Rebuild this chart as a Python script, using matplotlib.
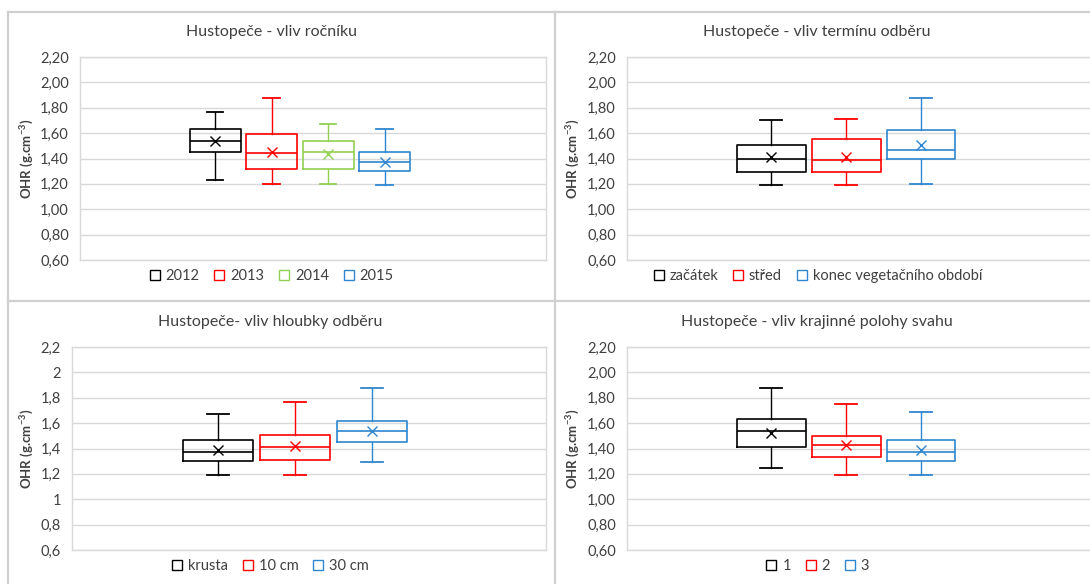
import matplotlib
matplotlib.use("Agg")
import matplotlib.pyplot as plt
from matplotlib.lines import Line2D
from matplotlib.ticker import FixedLocator, FixedFormatter

W, H = 1090, 584
plt.rcParams['font.family'] = ['Lato', 'DejaVu Sans']
plt.rcParams['mathtext.default'] = 'regular'

# ---------------- data ----------------
rocnik_labels = ['2012', '2013', '2014', '2015']
rocnik_whislo = [1.23, 1.20, 1.20, 1.195]
rocnik_q1 = [1.45, 1.32, 1.32, 1.30]
rocnik_med = [1.54, 1.44, 1.45, 1.37]
rocnik_q3 = [1.63, 1.59, 1.54, 1.45]
rocnik_whishi = [1.77, 1.88, 1.67, 1.63]
rocnik_mean = [1.54, 1.455, 1.435, 1.37]

termin_labels = ['začátek', 'střed', 'konec vegetačního období']
termin_whislo = [1.19, 1.19, 1.20]
termin_q1 = [1.29, 1.295, 1.40]
termin_med = [1.40, 1.385, 1.465]
termin_q3 = [1.51, 1.555, 1.625]
termin_whishi = [1.70, 1.71, 1.88]
termin_mean = [1.415, 1.415, 1.505]

hloubka_labels = ['krusta', '10 cm', '30 cm']
hloubka_whislo = [1.195, 1.195, 1.29]
hloubka_q1 = [1.30, 1.31, 1.45]
hloubka_med = [1.37, 1.415, 1.54]
hloubka_q3 = [1.465, 1.51, 1.62]
hloubka_whishi = [1.67, 1.765, 1.88]
hloubka_mean = [1.385, 1.42, 1.535]

poloha_labels = ['1', '2', '3']
poloha_whislo = [1.25, 1.195, 1.195]
poloha_q1 = [1.41, 1.33, 1.30]
poloha_med = [1.54, 1.43, 1.37]
poloha_q3 = [1.63, 1.50, 1.465]
poloha_whishi = [1.88, 1.75, 1.685]
poloha_mean = [1.525, 1.43, 1.385]

yticks = [0.6, 0.8, 1.0, 1.2, 1.4, 1.6, 1.8, 2.0, 2.2]
yticklabels_2dec = ['0,60', '0,80', '1,00', '1,20', '1,40', '1,60', '1,80', '2,00', '2,20']
yticklabels_short = ['0,6', '0,8', '1', '1,2', '1,4', '1,6', '1,8', '2', '2,2']

titles = ['Hustopeče - vliv ročníku', 'Hustopeče - vliv termínu odběru',
          'Hustopeče- vliv hloubky odběru', 'Hustopeče - vliv krajinné polohy svahu']
ylabel = 'OHR (g.cm$^{-3}$)'

# ---------------- style ----------------
BLACK = '#000000'
RED = '#FF0000'
GREEN = '#92D050'
BLUE = '#2E86D0'
GRID = '#D9D9D9'
TXT = '#404040'

fig = plt.figure(figsize=(W / 100, H / 100), dpi=100)
fig.patch.set_facecolor('white')


def fx(x):
    return x / W


def fy(y):
    return 1 - y / H


# panel frames
for (x0, y0, x1, y1) in [(8, 12, 8, H), (8, 12, W, 12), (555, 12, 555, H), (8, 301, W, 301)]:
    fig.add_artist(Line2D([fx(x0), fx(x1)], [fy(y0), fy(y1)], color='#D0D0D0', lw=1.6))


def panel(layout, labels, whislo, q1, med, q3, whishi, mean, colors, title, ticklabels):
    l, t, r, b, c0, sp, wpx, title_x, title_y, leg_y, ylab_x = layout
    ax = fig.add_axes([fx(l), fy(b), fx(r - l), (b - t) / H])
    n = len(labels)
    w = wpx / sp
    for i in range(n):
        st = dict(med=med[i], q1=q1[i], q3=q3[i], whislo=whislo[i], whishi=whishi[i],
                  mean=mean[i], fliers=[], label=labels[i])
        c = colors[i]
        ax.bxp([st], positions=[i], widths=w, capwidths=w * 0.32, showmeans=True,
               showfliers=False,
               boxprops=dict(color=c, lw=1.2),
               medianprops=dict(color=c, lw=1.2),
               whiskerprops=dict(color=c, lw=1.0),
               capprops=dict(color=c, lw=1.3),
               meanprops=dict(marker='x', markeredgecolor=c, markerfacecolor=c,
                              markersize=7, markeredgewidth=1.0))
    ax.set_xlim((l - c0) / sp, (r - c0) / sp)
    ax.set_ylim(0.6, 2.2)
    ax.yaxis.set_major_locator(FixedLocator(yticks))
    ax.yaxis.set_major_formatter(FixedFormatter(ticklabels))
    ax.set_xticks([])
    ax.grid(axis='y', color=GRID, lw=1.0)
    ax.set_axisbelow(True)
    for s in ax.spines.values():
        s.set_color(GRID)
        s.set_linewidth(1.0)
    ax.tick_params(axis='y', length=0, pad=8, labelsize=10.5, labelcolor=TXT)
    fig.text(fx(title_x), fy(title_y), title, ha='center', va='center', fontsize=11.5, color=TXT)
    fig.text(fx(ylab_x), fy((t + b) / 2), ylabel, ha='center', va='center', rotation=90,
             fontsize=9.5, color=TXT, fontweight='bold')
    handles = [Line2D([], [], ls='none', marker='s', markersize=7.5, markerfacecolor='white',
                      markeredgecolor=colors[i], markeredgewidth=1.0) for i in range(n)]
    fig.legend(handles, labels, loc='center', bbox_to_anchor=(fx(title_x), fy(leg_y)),
               ncol=n, frameon=False, fontsize=10.5, handlelength=0.9, handletextpad=0.3,
               columnspacing=0.9, labelcolor=TXT, borderpad=0, borderaxespad=0)
    return ax


# layout: left, top, right, bottom (px), first box center, spacing, box width, title x, title y, legend y, ylabel x
panel((80, 57, 546, 260, 215, 56.5, 51, 271, 32, 276, 27), rocnik_labels, rocnik_whislo, rocnik_q1,
      rocnik_med, rocnik_q3, rocnik_whishi, rocnik_mean, [BLACK, RED, GREEN, BLUE], titles[0],
      yticklabels_2dec)
panel((627, 57, 1110, 260, 771, 75, 69, 817, 32, 276, 573), termin_labels, termin_whislo, termin_q1,
      termin_med, termin_q3, termin_whishi, termin_mean, [BLACK, RED, BLUE], titles[1],
      yticklabels_2dec)
panel((72, 347, 546, 550, 218, 77, 70, 270, 322, 566, 27), hloubka_labels, hloubka_whislo, hloubka_q1,
      hloubka_med, hloubka_q3, hloubka_whishi, hloubka_mean, [BLACK, RED, BLUE], titles[2],
      yticklabels_short)
panel((627, 347, 1110, 550, 771, 75, 69, 817, 322, 566, 573), poloha_labels, poloha_whislo, poloha_q1,
      poloha_med, poloha_q3, poloha_whishi, poloha_mean, [BLACK, RED, BLUE], titles[3],
      yticklabels_2dec)

fig.savefig('out.png', dpi=100)
